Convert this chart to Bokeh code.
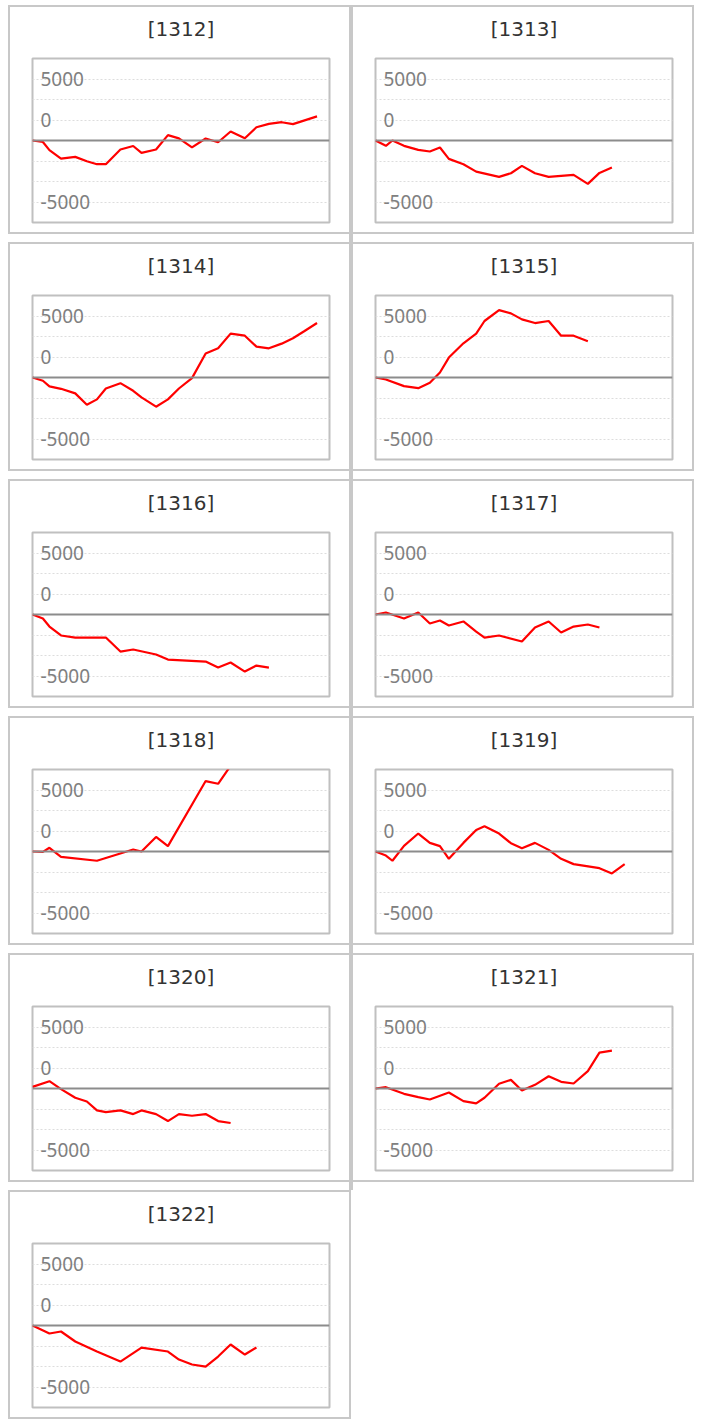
from bokeh.plotting import figure
from bokeh.layouts import column, row
from bokeh.models import Range1d, Span, Grid, FixedTicker, Title
from bokeh.core.properties import value
from bokeh.embed import file_html
from bokeh.resources import INLINE

N = None

# shared sampling positions along the (date) axis, in % of the axis span
t = [0, 3.5, 5.7, 9.6, 14.4, 18.3, 21.7, 24.7, 29.6, 33.9, 36.7, 41.6, 45.6,
     49.3, 53.7, 58.3, 62.5, 66.7, 71.5, 75.4, 79.6, 83.9, 87.7, 91.6, 95.8]

codes = ["1312", "1313", "1314", "1315", "1316", "1317",
         "1318", "1319", "1320", "1321", "1322"]

s1312 = [0, -180, -1180, -2220, -2000, -2530, -2890, -2890, -1090, -670, -1510, -1100,
         650, 260, -840, 240, -210, 1100, 280, 1620, 2030, 2230, 2000, N, 2940]
s1313 = [0, -650, 0, -650, -1140, -1340, -850, -2240, -2890, -3790, N, -4440,
         -3990, -3090, -3990, -4440, N, -4190, -5290, -3950, -3300]
s1314 = [0, -400, -1090, -1380, -1940, -3320, -2670, -1340, -690, -1620, -2430, -3560,
         -2670, -1340, -80, 2920, 3560, 5350, 5100, 3770, 3560, 4130, 4780, 5670, 6640]
s1315 = [0, -240, N, -1050, -1300, -650, 610, 2430, 4170, 5350, 6890, 8220,
         7820, 7090, 6640, 6890, 5100, 5100, 4420]
s1316 = [0, -490, -1470, -2560, -2810, N, N, -2810, -4520, -4270, N, -4880,
         -5500, N, N, -5740, -6470, -5860, -6960, -6230, -6470]
s1317 = [0, 240, N, -490, 240, -1100, -730, -1340, -850, -2080, -2810, -2560,
         N, -3300, -1590, -850, -2200, -1470, -1220, -1590]
s1318 = [0, -40, 450, -650, N, N, -1130, N, N, 240, 0, 1780,
         650, N, N, 8590, 8260, 10450]
s1319 = [0, -490, -1130, 690, 2190, 1050, 650, -890, 1050, 2630, 3080, 2190,
         1010, 400, 1050, 200, -890, -1540, N, -2030, -2670, -1540]
s1320 = [200, N, 890, -80, -1130, -1580, -2670, -2880, -2670, -3120, -2670, -3120,
         -3970, -3120, -3320, -3120, -3970, -4210]
s1321 = [0, 160, N, -650, -1050, -1340, N, -490, -1540, -1820, -1130, 570,
         1050, -240, 450, 1500, 810, 610, 2110, 4370, 4620]
s1322 = [0, N, -980, -730, -1950, N, -3175, N, -4400, N, -2690, N,
         -3175, -4150, -4760, -5010, -3790, -2320, -3540, -2690]

series = [s1312, s1313, s1314, s1315, s1316, s1317,
          s1318, s1319, s1320, s1321, s1322]

grid_values = [-7500, -5000, -2500, 2500, 5000, 7500]
tick_labels = ["5000", "0", "-5000"]
tick_label_y = [7500, 2500, -7500]

PANEL_BORDER = "#c8c8c8"


def make_panel(code, vals):
    p = figure(width=339, height=225,
               x_range=Range1d(0, 100), y_range=Range1d(-10000, 10000),
               x_axis_type=None, y_axis_type=None,
               toolbar_location=None, output_backend="svg",
               min_border_left=22, min_border_right=24,
               min_border_top=51, min_border_bottom=14,
               background_fill_color="white", border_fill_color="white",
               outline_line_color="#c0c0c0", outline_line_width=2,
               styles={"border": "2px solid " + PANEL_BORDER,
                       "box-sizing": "content-box"})
    # spacer between the title and the plot area (closest to the frame)
    p.add_layout(Title(text=" ", text_font_size="10px", standoff=5), "above")
    p.add_layout(Title(text="[" + code + "]", align="center",
                       vertical_align="bottom", standoff=0,
                       text_font="DejaVu Sans", text_font_size="20px",
                       text_font_style="normal", text_color="#333333"),
                 "above")

    p.add_layout(Grid(dimension=1, ticker=FixedTicker(ticks=grid_values),
                      grid_line_color="#dddddd", grid_line_dash="2 2",
                      grid_line_width=1))
    p.add_layout(Span(location=0, dimension="width",
                      line_color="#8c8c8c", line_width=2))

    p.text(x=[0] * len(tick_labels), y=tick_label_y, text=tick_labels,
           x_offset=8, text_baseline="middle", text_align="left",
           text_font=value("Noto Sans"), text_font_size="19px",
           text_color="#808080")

    xs = [t[i] for i, v in enumerate(vals) if v is not None]
    ys = [v for v in vals if v is not None]
    p.line(xs, ys, line_color="#ff0000", line_width=2.2)
    return p


panels = [make_panel(c, s) for c, s in zip(codes, series)]

rows = []
for i in range(0, len(panels), 2):
    rows.append(row(*panels[i:i + 2], spacing=0))

root = column(*rows, spacing=8,
              styles={"margin-left": "8px", "margin-top": "5px",
                      "background-image": "linear-gradient(#c8c8c8, #c8c8c8)",
                      "background-repeat": "no-repeat",
                      "background-position": "341px 0px",
                      "background-size": "4px 1185px"})

open("out.html", "w").write(file_html(root, INLINE))
